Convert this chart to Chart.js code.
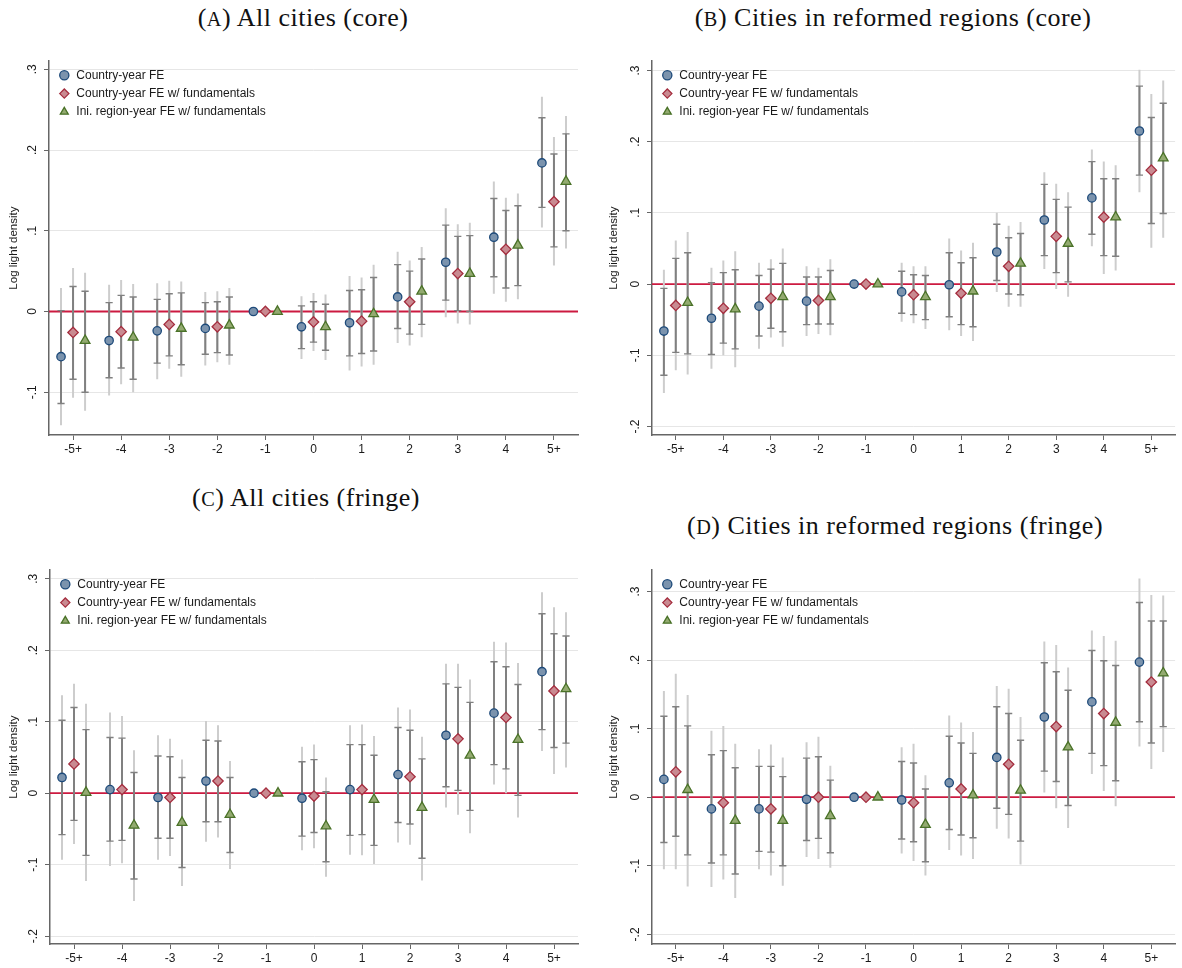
<!DOCTYPE html>
<html>
<head>
<meta charset="utf-8">
<script src="https://cdn.jsdelivr.net/npm/chart.js@4.4.0/dist/chart.umd.min.js"></script>
<style>
  body { margin: 0; background: #fff; width: 1182px; height: 968px; position: relative; overflow: hidden; }
  .ttl { position: absolute; font-family: "Liberation Serif", serif; font-size: 26px; letter-spacing: 0.5px; color: #111;
         white-space: nowrap; transform: translate(-50%, -50%); }
  .ttl small { font-size: 0.78em; }
  canvas { position: absolute; }
</style>
</head>
<body>
<div class="ttl" style="left:303px;top:18px">(<small>A</small>) All cities (core)</div>
<div class="ttl" style="left:893px;top:18px">(<small>B</small>) Cities in reformed regions (core)</div>
<div class="ttl" style="left:306px;top:498px">(<small>C</small>) All cities (fringe)</div>
<div class="ttl" style="left:895px;top:526px">(<small>D</small>) Cities in reformed regions (fringe)</div>

<canvas id="ca" style="left:0;top:50px" width="588" height="415"></canvas>
<canvas id="cb" style="left:600px;top:50px" width="582" height="415"></canvas>
<canvas id="cc" style="left:0;top:559px" width="588" height="409"></canvas>
<canvas id="cd" style="left:600px;top:559px" width="582" height="409"></canvas>

<script>
// years relative to the reform, -1 is the reference year
const categories = ['-5+', '-4', '-3', '-2', '-1', '0', '1', '2', '3', '4', '5+'];
const seriesNames = ['Country-year FE', 'Country-year FE w/ fundamentals', 'Ini. region-year FE w/ fundamentals'];
const yTickValues = [-0.2, -0.1, 0, 0.1, 0.2, 0.3];
const yTickLabels = ['-.2', '-.1', '0', '.1', '.2', '.3'];

// (A) all cities, core
const aCyEst = [-0.056, -0.036, -0.024, -0.021, 0, -0.019, -0.014, 0.018, 0.061, 0.092, 0.184];
const aCyInner = [[-0.114,0.001],[-0.082,0.011],[-0.064,0.015],[-0.053,0.011],null,[-0.046,0.007],[-0.055,0.026],[-0.021,0.058],[0.014,0.107],[0.043,0.140],[0.129,0.240]];
const aCyOuter = [[-0.141,0.029],[-0.104,0.033],[-0.084,0.035],[-0.067,0.024],null,[-0.059,0.019],[-0.073,0.044],[-0.039,0.074],[-0.007,0.128],[0.022,0.161],[0.104,0.266]];
const aCyfEst = [-0.026, -0.025, -0.016, -0.019, 0, -0.013, -0.012, 0.012, 0.047, 0.077, 0.136];
const aCyfInner = [[-0.084,0.031],[-0.070,0.020],[-0.055,0.022],[-0.051,0.012],null,[-0.038,0.012],[-0.052,0.027],[-0.028,0.050],[0.001,0.093],[0.029,0.125],[0.080,0.195]];
const aCyfOuter = [[-0.107,0.054],[-0.090,0.039],[-0.071,0.038],[-0.063,0.025],null,[-0.049,0.023],[-0.068,0.042],[-0.042,0.063],[-0.015,0.108],[0.012,0.141],[0.057,0.216]];
const aRyfEst = [-0.036, -0.032, -0.021, -0.017, 0, -0.019, -0.003, 0.025, 0.047, 0.082, 0.161];
const aRyfInner = [[-0.100,0.025],[-0.084,0.018],[-0.066,0.023],[-0.054,0.018],null,[-0.048,0.009],[-0.049,0.042],[-0.016,0.065],[0.000,0.094],[0.032,0.131],[0.100,0.220]];
const aRyfOuter = [[-0.123,0.048],[-0.100,0.034],[-0.081,0.037],[-0.066,0.029],null,[-0.060,0.021],[-0.066,0.058],[-0.032,0.080],[-0.016,0.110],[0.015,0.146],[0.078,0.242]];

// (B) cities in reformed regions, core
const bCyEst = [-0.066, -0.048, -0.031, -0.024, 0, -0.011, -0.001, 0.045, 0.090, 0.121, 0.215];
const bCyInner = [[-0.128,-0.006],[-0.099,0.002],[-0.073,0.012],[-0.057,0.010],null,[-0.041,0.018],[-0.046,0.044],[0.005,0.084],[0.040,0.140],[0.070,0.172],[0.153,0.278]];
const bCyOuter = [[-0.153,0.020],[-0.119,0.023],[-0.091,0.030],[-0.073,0.025],null,[-0.053,0.030],[-0.065,0.064],[-0.011,0.100],[0.021,0.157],[0.053,0.189],[0.129,0.301]];
const bCyfEst = [-0.030, -0.034, -0.020, -0.023, 0, -0.015, -0.013, 0.025, 0.067, 0.094, 0.160];
const bCyfInner = [[-0.096,0.036],[-0.083,0.016],[-0.062,0.021],[-0.056,0.010],null,[-0.043,0.013],[-0.057,0.030],[-0.014,0.065],[0.016,0.119],[0.040,0.148],[0.085,0.234]];
const bCyfOuter = [[-0.121,0.061],[-0.100,0.033],[-0.075,0.035],[-0.070,0.023],null,[-0.055,0.025],[-0.073,0.047],[-0.032,0.082],[-0.007,0.141],[0.014,0.172],[0.051,0.267]];
const bRyfEst = [-0.026, -0.035, -0.018, -0.018, 0, -0.018, -0.010, 0.029, 0.057, 0.094, 0.177];
const bRyfInner = [[-0.098,0.044],[-0.091,0.020],[-0.067,0.029],[-0.056,0.019],null,[-0.050,0.012],[-0.060,0.037],[-0.015,0.071],[0.003,0.108],[0.039,0.148],[0.099,0.254]];
const bRyfOuter = [[-0.127,0.073],[-0.117,0.046],[-0.088,0.050],[-0.072,0.035],null,[-0.063,0.025],[-0.080,0.058],[-0.032,0.087],[-0.018,0.129],[0.019,0.167],[0.065,0.286]];

// (C) all cities, fringe
const cCyEst = [0.022, 0.005, -0.006, 0.017, 0, -0.007, 0.005, 0.026, 0.081, 0.112, 0.170];
const cCyInner = [[-0.058,0.102],[-0.067,0.078],[-0.063,0.052],[-0.040,0.074],null,[-0.060,0.044],[-0.059,0.068],[-0.041,0.092],[0.009,0.153],[0.040,0.184],[0.089,0.251]];
const cCyOuter = [[-0.093,0.137],[-0.102,0.113],[-0.093,0.081],[-0.068,0.101],null,[-0.080,0.065],[-0.086,0.095],[-0.069,0.120],[-0.020,0.181],[0.012,0.212],[0.059,0.281]];
const cCyfEst = [0.041, 0.005, -0.006, 0.017, 0, -0.004, 0.005, 0.023, 0.076, 0.106, 0.143];
const cCyfInner = [[-0.038,0.120],[-0.066,0.077],[-0.063,0.051],[-0.040,0.073],null,[-0.055,0.047],[-0.058,0.068],[-0.043,0.088],[0.004,0.148],[0.034,0.177],[0.064,0.223]];
const cCyfOuter = [[-0.071,0.153],[-0.098,0.108],[-0.088,0.076],[-0.062,0.095],null,[-0.077,0.068],[-0.087,0.096],[-0.072,0.117],[-0.030,0.181],[0.000,0.211],[0.027,0.260]];
const cRyfEst = [0.001, -0.045, -0.041, -0.030, 0, -0.046, -0.009, -0.020, 0.053, 0.075, 0.146];
const cRyfInner = [[-0.087,0.089],[-0.120,0.029],[-0.104,0.022],[-0.083,0.022],null,[-0.096,0.002],[-0.073,0.053],[-0.091,0.048],[-0.024,0.127],[-0.003,0.152],[0.070,0.220]];
const cRyfOuter = [[-0.123,0.125],[-0.151,0.060],[-0.130,0.047],[-0.106,0.045],null,[-0.117,0.022],[-0.099,0.080],[-0.122,0.079],[-0.056,0.159],[-0.034,0.182],[0.036,0.253]];

// (D) cities in reformed regions, fringe
const dCyEst = [0.026, -0.017, -0.017, -0.003, 0, -0.004, 0.021, 0.058, 0.117, 0.139, 0.197];
const dCyInner = [[-0.066,0.118],[-0.096,0.062],[-0.079,0.045],[-0.063,0.057],null,[-0.061,0.052],[-0.047,0.089],[-0.016,0.132],[0.038,0.196],[0.064,0.214],[0.110,0.284]];
const dCyOuter = [[-0.105,0.155],[-0.131,0.097],[-0.105,0.070],[-0.087,0.080],null,[-0.082,0.073],[-0.077,0.119],[-0.046,0.162],[0.007,0.227],[0.034,0.243],[0.074,0.319]];
const dCyfEst = [0.037, -0.008, -0.017, 0.000, 0, -0.008, 0.012, 0.048, 0.103, 0.122, 0.168];
const dCyfInner = [[-0.057,0.132],[-0.084,0.068],[-0.080,0.045],[-0.060,0.059],null,[-0.065,0.050],[-0.055,0.079],[-0.025,0.122],[0.023,0.183],[0.046,0.199],[0.079,0.257]];
const dCyfOuter = [[-0.105,0.180],[-0.120,0.104],[-0.114,0.077],[-0.090,0.088],null,[-0.093,0.078],[-0.085,0.109],[-0.060,0.158],[-0.016,0.222],[0.009,0.235],[0.041,0.295]];
const dRyfEst = [0.011, -0.034, -0.034, -0.027, 0, -0.040, 0.003, 0.010, 0.073, 0.109, 0.181];
const dRyfInner = [[-0.084,0.104],[-0.112,0.043],[-0.100,0.030],[-0.081,0.025],null,[-0.094,0.012],[-0.059,0.064],[-0.064,0.083],[-0.012,0.156],[0.024,0.192],[0.103,0.257]];
const dRyfOuter = [[-0.130,0.149],[-0.147,0.078],[-0.129,0.058],[-0.103,0.046],null,[-0.114,0.032],[-0.090,0.095],[-0.098,0.117],[-0.045,0.189],[-0.013,0.228],[0.066,0.294]];

// look of the three estimators
const dodge = [-0.25, 0, 0.25];
const markerStyles = [
  { pointStyle: 'circle', radius: 4.2, fill: '#7b93ad', line: '#1d4a7a' },
  { pointStyle: 'rectRot', radius: 5.2, fill: '#c98a91', line: '#a52e3f' },
  { pointStyle: 'triangle', radius: 5.6, fill: '#93aa70', line: '#4a7228' }
];
const sansFont = '"Liberation Sans", Arial, sans-serif';

function pointsOf(est, shift) {
  return est.map((v, i) => ({ x: i + shift, y: v }));
}

// each interval becomes lo -> hi, then a null so the line breaks
function rangesOf(ci, shift) {
  const out = [];
  ci.forEach((r, i) => {
    if (!r) return;
    out.push({ x: i + shift, y: r[0] }, { x: i + shift, y: r[1] }, { x: i + shift, y: null });
  });
  return out;
}

// nudges the in-plot legend a little off the axis, like the original
const legendNudge = {
  id: 'legendNudge',
  afterLayout(chart) {
    chart.legend.left += 3;
    chart.legend.top += 13;
  }
};

function drawPanel(id, est, inner, outer, yMin, yMax, yAxisW, xAxisH, padRight) {
  const datasets = [];
  est.forEach((e, s) => {
    const st = markerStyles[s];
    datasets.push({
      label: seriesNames[s],
      data: pointsOf(e, dodge[s]),
      showLine: false,
      pointStyle: st.pointStyle,
      pointRadius: st.radius,
      pointHoverRadius: st.radius,
      backgroundColor: st.fill,
      borderColor: st.line,
      borderWidth: 1.3,
      pointBackgroundColor: st.fill,
      pointBorderColor: st.line,
      pointBorderWidth: 1.3
    });
  });
  inner.forEach((ci, s) => {
    datasets.push({
      label: 'inner',
      data: rangesOf(ci, dodge[s]),
      borderColor: '#808080',
      borderWidth: 2,
      pointStyle: 'line',
      pointRadius: 3.6,
      pointBorderColor: '#808080',
      pointBorderWidth: 1.4,
      spanGaps: false
    });
  });
  outer.forEach((ci, s) => {
    datasets.push({
      label: 'outer',
      data: rangesOf(ci, dodge[s]),
      borderColor: '#cdcdcd',
      borderWidth: 2,
      pointRadius: 0,
      spanGaps: false
    });
  });
  datasets.push({
    label: 'zero',
    data: [{ x: -0.5, y: 0 }, { x: 10.5, y: 0 }],
    borderColor: '#cc1a40',
    borderWidth: 1.8,
    pointRadius: 0
  });

  new Chart(document.getElementById(id), {
    type: 'line',
    data: { datasets: datasets },
    plugins: [legendNudge],
    options: {
      responsive: false,
      animation: false,
      layout: { padding: { top: 10, right: padRight, left: 0, bottom: 0 } },
      plugins: {
        tooltip: { enabled: false },
        legend: {
          position: 'chartArea',
          align: 'start',
          labels: {
            usePointStyle: true,
            boxHeight: 6.5,
            padding: 6.3,
            color: '#1a1a1a',
            font: { family: sansFont, size: 12 },
            filter: item => item.datasetIndex < 3
          }
        }
      },
      scales: {
        x: {
          type: 'linear',
          min: -0.5,
          max: 10.5,
          afterBuildTicks: sc => { sc.ticks = categories.map((c, i) => ({ value: i })); },
          afterFit: sc => { sc.height = xAxisH; },
          ticks: {
            autoSkip: false,
            maxRotation: 0,
            padding: 2,
            color: '#1a1a1a',
            font: { family: sansFont, size: 12 },
            callback: v => categories[v]
          },
          grid: { drawOnChartArea: false, drawTicks: true, tickLength: 5, tickColor: '#666', tickWidth: 1 },
          border: { color: '#666', width: 1.5 }
        },
        y: {
          min: yMin,
          max: yMax,
          afterBuildTicks: sc => {
            sc.ticks = yTickValues.filter(v => v >= yMin && v <= yMax).map(v => ({ value: v }));
          },
          afterFit: sc => { sc.width = yAxisW; },
          ticks: {
            minRotation: 90,
            maxRotation: 90,
            crossAlign: 'center',
            padding: 4,
            color: '#1a1a1a',
            font: { family: sansFont, size: 12 },
            callback: v => yTickLabels[yTickValues.indexOf(v)]
          },
          grid: { color: '#e6e6e6', lineWidth: 1, drawTicks: true, tickLength: 5, tickColor: '#666', tickWidth: 1 },
          border: { color: '#666', width: 1.5 },
          title: {
            display: true,
            text: 'Log light density',
            color: '#1a1a1a',
            font: { family: sansFont, size: 11.5 },
            padding: { top: 7, bottom: 0 }
          }
        }
      }
    }
  });
}

drawPanel('ca', [aCyEst, aCyfEst, aRyfEst], [aCyInner, aCyfInner, aRyfInner], [aCyOuter, aCyfOuter, aRyfOuter],
  -0.153, 0.31, 49, 30, 10);
drawPanel('cb', [bCyEst, bCyfEst, bRyfEst], [bCyInner, bCyfInner, bRyfInner], [bCyOuter, bCyfOuter, bRyfOuter],
  -0.212, 0.313, 52, 30, 4);
drawPanel('cc', [cCyEst, cCyfEst, cRyfEst], [cCyInner, cCyfInner, cRyfInner], [cCyOuter, cCyfOuter, cRyfOuter],
  -0.211, 0.312, 50, 24, 10);
drawPanel('cd', [dCyEst, dCyfEst, dRyfEst], [dCyInner, dCyfInner, dRyfInner], [dCyOuter, dCyfOuter, dRyfOuter],
  -0.214, 0.331, 52, 24, 4);
</script>
</body>
</html>
